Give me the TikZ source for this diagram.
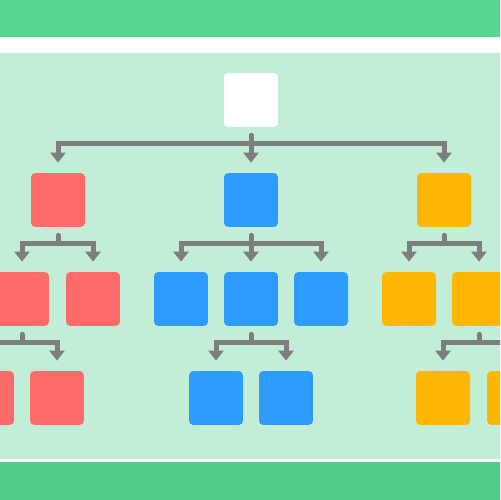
\documentclass[tikz,border=0pt]{standalone}
\usetikzlibrary{calc,arrows.meta}
\definecolor{bandtop}{HTML}{56D68F}
\definecolor{bandbottom}{HTML}{4FCC87}
\definecolor{panel}{HTML}{C2EED7}
\definecolor{linkgrey}{HTML}{7E7E7E}
\definecolor{redbox}{HTML}{FF6B6B}
\definecolor{bluebox}{HTML}{2E9BFF}
\definecolor{orangebox}{HTML}{FFB703}

\begin{document}
\begin{tikzpicture}[x=0.02cm,y=-0.02cm,
  box/.style={minimum size=1.08cm,inner sep=0pt,rounded corners=2.5pt},
  link/.style={draw=linkgrey,line width=0.1cm,-{Triangle[width=0.3cm,length=0.2cm]},shorten >=0.2cm},
  stub/.style={draw=linkgrey,line width=0.1cm,line cap=round}]
 \useasboundingbox (0,0) rectangle (500,500);
 \clip (0,0) rectangle (500,500);
 % bands
 \fill[bandtop] (0,0) rectangle (500,37);
 \fill[white] (0,37) rectangle (500,53);
 \fill[panel] (0,53) rectangle (500,459);
 \fill[white] (0,459) rectangle (500,462);
 \fill[bandbottom] (0,462) rectangle (500,500);
 % boxes
 \node[box,fill=white] (top) at (251,100) {};
 \node[box,fill=redbox] (red) at (58,200) {};
 \node[box,fill=bluebox] (blue) at (251,200) {};
 \node[box,fill=orangebox] (orange) at (444,200) {};
 \node[box,fill=redbox] (red1) at (22,299) {};
 \node[box,fill=redbox] (red2) at (93,299) {};
 \node[box,fill=bluebox] (blue1) at (181,299) {};
 \node[box,fill=bluebox] (blue2) at (251,299) {};
 \node[box,fill=bluebox] (blue3) at (321,299) {};
 \node[box,fill=orangebox] (orange1) at (409,299) {};
 \node[box,fill=orangebox] (orange2) at (479,299) {};
 \node[box,fill=redbox] (red11) at (-13,398) {};
 \node[box,fill=redbox] (red12) at (57,398) {};
 \node[box,fill=bluebox] (blue21) at (216,398) {};
 \node[box,fill=bluebox] (blue22) at (286,398) {};
 \node[box,fill=orangebox] (orange21) at (443,398) {};
 \node[box,fill=orangebox] (orange22) at (514,398) {};
 % links
 \foreach \p/\kids in {top/{red,blue,orange},red/{red1,red2},blue/{blue1,blue2,blue3},orange/{orange1,orange2},red1/{red11,red12},blue2/{blue21,blue22},orange2/{orange21,orange22}}{
  \coordinate (j\p) at ($(\p.south)+(0,16)$);
  \draw[stub] (j\p) -- ++(0,-8);
  \foreach \k in \kids \draw[link] (j\p) -| (\k);
 }
\end{tikzpicture}
\end{document}
